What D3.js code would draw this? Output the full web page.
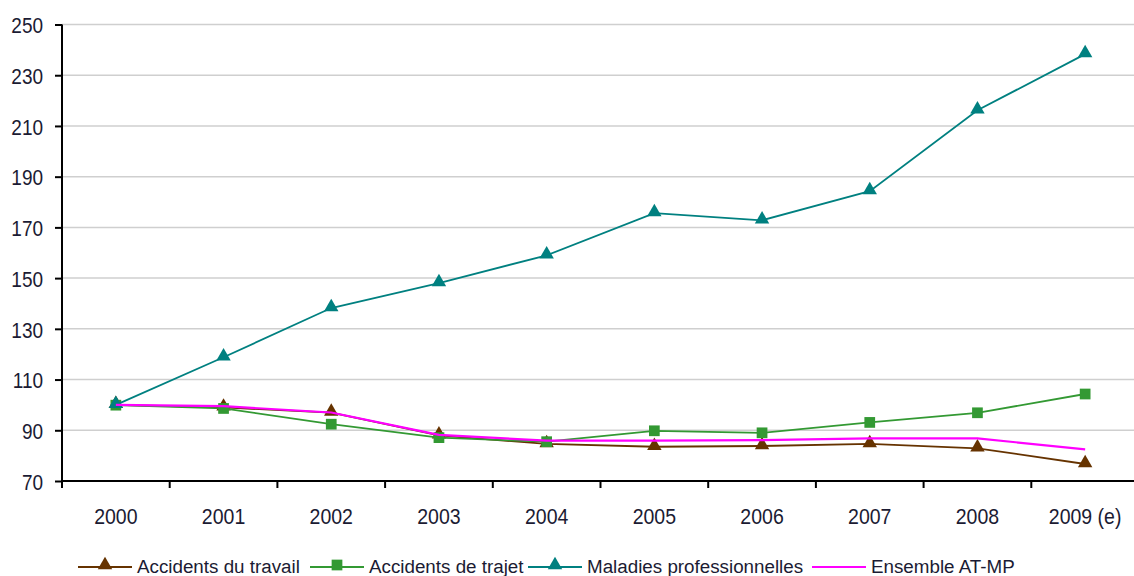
<!DOCTYPE html>
<html><head><meta charset="utf-8">
<script src="https://cdn.jsdelivr.net/npm/d3@7"></script>
<style>body{margin:0;background:#fff}svg{display:block}text{font-family:"Liberation Sans",Arial,sans-serif;fill:#1b1b33}</style>
</head><body><svg id="c" width="1134" height="576"></svg>
<script>
const years = ["2000","2001","2002","2003","2004","2005","2006","2007","2008","2009 (e)"];
const yTicks = [70,90,110,130,150,170,190,210,230,250];
const accidentsTravail = [100,99,97,88,84.6,83.5,83.8,84.6,82.9,76.7];
const accidentsTrajet = [99.9,98.6,92.4,87.1,85.5,89.8,89,93.1,96.9,104.3];
const maladiesPro = [100,118.8,138.2,148,159,175.6,172.8,184.3,216.2,238.3];
const ensemble = [100,99.5,97,88.2,85.9,85.9,86.1,86.8,86.8,82.5];
const seriesNames = ["Accidents du travail","Accidents de trajet","Maladies professionnelles","Ensemble AT-MP"];

const series = [
  {name:seriesNames[0], values:accidentsTravail, color:"#663300", marker:"triangle"},
  {name:seriesNames[1], values:accidentsTrajet, color:"#339933", marker:"square"},
  {name:seriesNames[2], values:maladiesPro, color:"#008080", marker:"triangle"},
  {name:seriesNames[3], values:ensemble, color:"#ff00ff", marker:null}
];

const svg = d3.select("#c");
const x = d3.scaleBand().domain(years).range([62,1139]);
const y = d3.scaleLinear().domain([70,250]).range([481,24.5]);

// grid
svg.append("g").selectAll("line").data(yTicks.slice(1)).join("line")
  .attr("x1",62).attr("x2",1134).attr("y1",d=>y(d)).attr("y2",d=>y(d))
  .attr("stroke","#cfcfcf").attr("stroke-width",1.5);

// y axis
const ya = svg.append("g").attr("transform","translate(62,0)")
  .call(d3.axisLeft(y).tickValues(yTicks).tickSize(7).tickPadding(12).tickFormat(d3.format("d")));
ya.select(".domain").attr("stroke","#000").attr("stroke-width",2).attr("d","M0,481V24.5");
ya.selectAll(".tick line").attr("stroke","#000").attr("stroke-width",2);
ya.selectAll("text").style("font-size","19px").attr("fill","#1b1b33")
  .attr("dy",null).attr("y",7).attr("transform","scale(1,1.18)");

// x axis
const xa = svg.append("g").attr("transform","translate(0,481)")
  .call(d3.axisBottom(x).tickSize(0).tickPadding(0));
xa.select(".domain").attr("stroke","#000").attr("stroke-width",2).attr("d","M62,0H1134");
xa.selectAll("text").style("font-size","19.5px").attr("fill","#1b1b33")
  .attr("dy",null).attr("y",0).attr("transform","translate(0,43) scale(1,1.15)");
svg.append("g").selectAll("line").data(years).join("line")
  .attr("x1",d=>x(d)).attr("x2",d=>x(d)).attr("y1",481).attr("y2",488)
  .attr("stroke","#000").attr("stroke-width",2);

const cx = d=>x(d)+x.bandwidth()/2;
const line = d3.line().x((d,i)=>cx(years[i])).y(d=>y(d));
const tri = d3.symbol().type(d3.symbolTriangle).size(90);
const sq = d3.symbol().type(d3.symbolSquare).size(115);

series.forEach((s,k)=>{
  const g = svg.append("g");
  g.append("path").attr("d",line(s.values)).attr("fill","none")
    .attr("stroke",s.color).attr("stroke-width",k===3?2.2:1.8);
  if(s.marker){
    g.selectAll("path.m").data(s.values).join("path").attr("class","m")
      .attr("transform",(d,i)=>`translate(${cx(years[i])},${y(d)-(s.marker==="triangle"?1:0)})`)
      .attr("d",s.marker==="triangle"?tri:sq).attr("fill",s.color);
  }
});

// legend
const legX = [78,310,528,812];
const lg = svg.append("g");
series.forEach((s,i)=>{
  const g = lg.append("g").attr("transform",`translate(${legX[i]},567)`);
  g.append("line").attr("x1",0).attr("x2",54).attr("stroke",s.color).attr("stroke-width",2);
  if(s.marker) g.append("path").attr("transform",`translate(27,-2)`)
    .attr("d",s.marker==="triangle"?tri:sq).attr("fill",s.color);
  g.append("text").attr("x",59).attr("y",6).style("font-size","18.8px").text(s.name);
});
</script></body></html>
